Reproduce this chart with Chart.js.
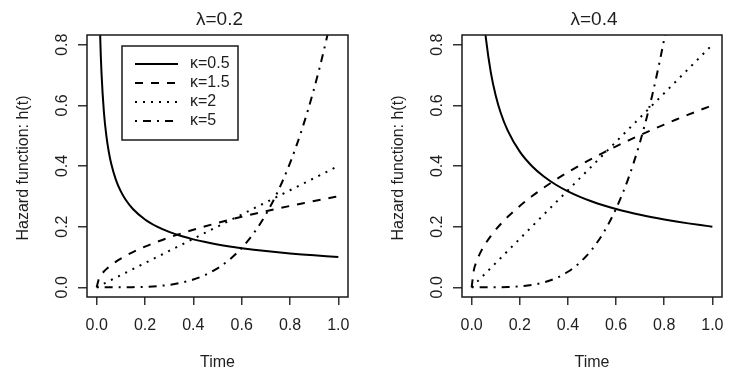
<!DOCTYPE html>
<html><head><meta charset="utf-8">
<script src="https://cdn.jsdelivr.net/npm/chart.js@4.4.0/dist/chart.umd.min.js"></script>
<style>
html,body{margin:0;padding:0;background:#fff;width:749px;height:381px;overflow:hidden}
canvas{position:absolute;top:0}
#c1{left:0}
#c2{left:375px}
</style></head>
<body>
<canvas id="c1" width="375" height="381"></canvas>
<canvas id="c2" width="374" height="381"></canvas>
<script>
// ---- data ----
const TIME = [0, 0.01, 0.015, 0.02, 0.03, 0.04, 0.05, 0.06, 0.08, 0.1, 0.12, 0.15, 0.2, 0.25, 0.3, 0.35, 0.4, 0.45, 0.5, 0.55, 0.6, 0.65, 0.7, 0.75, 0.8, 0.85, 0.9, 0.95, 1.0];
const PANEL_TITLES = ['λ=0.2', 'λ=0.4'];
const KAPPA_LABELS = ['κ=0.5', 'κ=1.5', 'κ=2', 'κ=5'];
const X_TICKS = [0, 0.2, 0.4, 0.6, 0.8, 1.0];
const Y_TICKS = [0, 0.2, 0.4, 0.6, 0.8];

const HAZ_L02_K05 = [null, 1.0, 0.8165, 0.7071, 0.5774, 0.5, 0.4472, 0.4082, 0.3536, 0.3162, 0.2887, 0.2582, 0.2236, 0.2, 0.1826, 0.1690, 0.1581, 0.1491, 0.1414, 0.1348, 0.1291, 0.1240, 0.1195, 0.1155, 0.1118, 0.1085, 0.1054, 0.1026, 0.1];
const HAZ_L02_K15 = [0, 0.03, 0.0367, 0.0424, 0.0520, 0.06, 0.0671, 0.0735, 0.0849, 0.0949, 0.1039, 0.1162, 0.1342, 0.15, 0.1643, 0.1775, 0.1897, 0.2012, 0.2121, 0.2225, 0.2324, 0.2419, 0.2510, 0.2598, 0.2683, 0.2766, 0.2846, 0.2924, 0.3];
const HAZ_L02_K2  = [0, 0.004, 0.006, 0.008, 0.012, 0.016, 0.02, 0.024, 0.032, 0.04, 0.048, 0.06, 0.08, 0.1, 0.12, 0.14, 0.16, 0.18, 0.2, 0.22, 0.24, 0.26, 0.28, 0.3, 0.32, 0.34, 0.36, 0.38, 0.4];
const HAZ_L02_K5  = [0, 0, 0, 0, 0, 0, 0, 0, 0, 0.0001, 0.0002, 0.0005, 0.0016, 0.0039, 0.0081, 0.0150, 0.0256, 0.0410, 0.0625, 0.0915, 0.1296, 0.1785, 0.2401, 0.3164, 0.4096, 0.5220, 0.6561, 0.8145, 1.0];

const HAZ_L04_K05 = [null, 2.0, 1.633, 1.4142, 1.1547, 1.0, 0.8944, 0.8165, 0.7071, 0.6325, 0.5774, 0.5164, 0.4472, 0.4, 0.3651, 0.3381, 0.3162, 0.2981, 0.2828, 0.2697, 0.2582, 0.2481, 0.2390, 0.2309, 0.2236, 0.2169, 0.2108, 0.2052, 0.2];
const HAZ_L04_K15 = [0, 0.06, 0.0735, 0.0849, 0.1039, 0.12, 0.1342, 0.1470, 0.1697, 0.1897, 0.2078, 0.2324, 0.2683, 0.3, 0.3286, 0.3550, 0.3795, 0.4025, 0.4243, 0.4450, 0.4648, 0.4837, 0.5020, 0.5196, 0.5367, 0.5532, 0.5692, 0.5848, 0.6];
const HAZ_L04_K2  = [0, 0.008, 0.012, 0.016, 0.024, 0.032, 0.04, 0.048, 0.064, 0.08, 0.096, 0.12, 0.16, 0.2, 0.24, 0.28, 0.32, 0.36, 0.4, 0.44, 0.48, 0.52, 0.56, 0.6, 0.64, 0.68, 0.72, 0.76, 0.8];
const HAZ_L04_K5  = [0, 0, 0, 0, 0, 0, 0, 0, 0.0001, 0.0002, 0.0004, 0.0010, 0.0032, 0.0078, 0.0162, 0.0300, 0.0512, 0.0820, 0.125, 0.1830, 0.2592, 0.3570, 0.4802, 0.6328, 0.8192, 1.0440, 1.3122, 1.6290, 2.0];

// ---- styling ----
const FONT = '"Liberation Sans", Arial, Helvetica, sans-serif';
const TEXT = '#1e1e1e';
const LINE_DASHES = [[], [8, 8], [2, 6], [2, 6, 8, 6]];

const rPlugin = {
  id: 'rstyle',
  afterDraw(chart, args, opts) {
    const ctx = chart.ctx, a = chart.chartArea, y = chart.scales.y;
    ctx.save();
    ctx.strokeStyle = '#1a1a1a';
    ctx.lineWidth = 1.5;
    ctx.setLineDash([]);
    ctx.strokeRect(a.left, a.top, a.right - a.left, a.bottom - a.top);

    ctx.fillStyle = TEXT;
    ctx.font = '16px ' + FONT;
    ctx.textAlign = 'center';
    ctx.textBaseline = 'middle';
    Y_TICKS.forEach(v => {
      const py = y.getPixelForValue(v);
      ctx.save();
      ctx.translate(a.left - 24, py);
      ctx.rotate(-Math.PI / 2);
      ctx.fillText(v.toFixed(1), 0, 0);
      ctx.restore();
    });
    ctx.save();
    ctx.translate(24, (a.top + a.bottom) / 2 + 2);
    ctx.rotate(-Math.PI / 2);
    ctx.fillText('Hazard function: h(t)', 0, 0);
    ctx.restore();
    ctx.fillText('Time', (a.left + a.right) / 2, 363);
    ctx.font = '19px ' + FONT;
    ctx.fillText(opts.title, (a.left + a.right) / 2 + 2, 20);

    if (opts.legend) {
      const lx = a.left + 35, ly = a.top + 11, lw = 116, lh = 94;
      ctx.fillStyle = '#fff';
      ctx.fillRect(lx, ly, lw, lh);
      ctx.strokeStyle = '#1a1a1a';
      ctx.lineWidth = 1.5;
      ctx.strokeRect(lx, ly, lw, lh);
      ctx.font = '16px ' + FONT;
      ctx.textAlign = 'left';
      chart.data.datasets.forEach((ds, i) => {
        const ry = ly + 18 + i * 19;
        ctx.strokeStyle = '#000';
        ctx.lineWidth = 2;
        ctx.setLineDash(ds.borderDash);
        ctx.beginPath();
        ctx.moveTo(lx + 13, ry);
        ctx.lineTo(lx + 56, ry);
        ctx.stroke();
        ctx.setLineDash([]);
        ctx.fillStyle = TEXT;
        ctx.fillText(ds.label, lx + 68, ry);
      });
    }
    ctx.restore();
  }
};

function makeChart(id, series, title, legend) {
  return new Chart(document.getElementById(id), {
    type: 'line',
    data: {
      datasets: series.map((s, i) => ({
        label: KAPPA_LABELS[i],
        data: TIME.map((t, j) => ({x: t, y: s[j]})).filter(p => p.y !== null),
        borderColor: '#000',
        borderWidth: 2,
        borderDash: LINE_DASHES[i],
        borderCapStyle: 'butt',
        pointRadius: 0,
        cubicInterpolationMode: 'monotone',
        fill: false
      }))
    },
    options: {
      responsive: false,
      animation: false,
      devicePixelRatio: 1,
      layout: {padding: {left: 0, right: 27, top: 35, bottom: 0}},
      plugins: {legend: {display: false}, tooltip: {enabled: false}, rstyle: {title: title, legend: legend}},
      scales: {
        x: {
          type: 'linear', min: -0.04, max: 1.04,
          afterBuildTicks: s => { s.ticks = X_TICKS.map(v => ({value: v})); },
          afterFit: s => { s.height = 84; },
          grid: {drawOnChartArea: false, drawTicks: true, tickLength: 8, color: '#333', lineWidth: 1.5},
          border: {display: false},
          ticks: {color: TEXT, font: {family: FONT, size: 16}, padding: 11, maxRotation: 0, autoSkip: false, callback: v => Number(v).toFixed(1)}
        },
        y: {
          type: 'linear', min: -0.032, max: 0.832,
          afterBuildTicks: s => { s.ticks = Y_TICKS.map(v => ({value: v})); },
          afterFit: s => { s.width = 87; },
          grid: {drawOnChartArea: false, drawTicks: true, tickLength: 9, color: '#333', lineWidth: 1.5},
          border: {display: false},
          ticks: {color: 'rgba(0,0,0,0)', font: {family: FONT, size: 16}, callback: v => Number(v).toFixed(1)}
        }
      }
    },
    plugins: [rPlugin]
  });
}

makeChart('c1', [HAZ_L02_K05, HAZ_L02_K15, HAZ_L02_K2, HAZ_L02_K5], PANEL_TITLES[0], true);
makeChart('c2', [HAZ_L04_K05, HAZ_L04_K15, HAZ_L04_K2, HAZ_L04_K5], PANEL_TITLES[1], false);
</script>
</body></html>
